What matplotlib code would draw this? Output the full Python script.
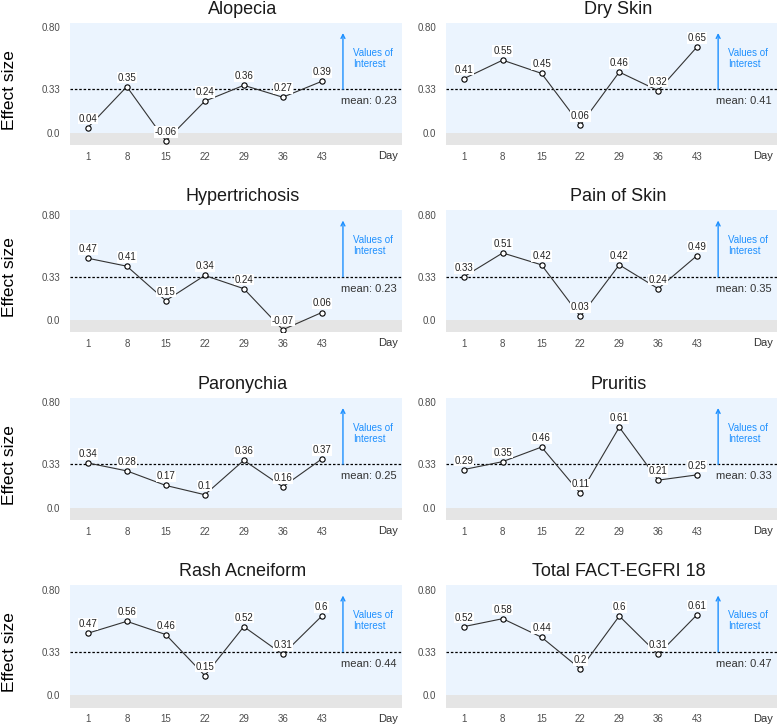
import matplotlib
matplotlib.use('Agg')
import matplotlib.pyplot as plt

plt.rcParams['font.family'] = ['Liberation Sans', 'DejaVu Sans']

DAYS = [1, 8, 15, 22, 29, 36, 43]
TITLES = ['Alopecia', 'Dry Skin', 'Hypertrichosis', 'Pain of Skin',
          'Paronychia', 'Pruritis', 'Rash Acneiform', 'Total FACT-EGFRI 18']

alopecia = [0.04, 0.35, -0.06, 0.24, 0.36, 0.27, 0.39]
dry_skin = [0.41, 0.55, 0.45, 0.06, 0.46, 0.32, 0.65]
hypertrichosis = [0.47, 0.41, 0.15, 0.34, 0.24, -0.07, 0.06]
pain_of_skin = [0.33, 0.51, 0.42, 0.03, 0.42, 0.24, 0.49]
paronychia = [0.34, 0.28, 0.17, 0.1, 0.36, 0.16, 0.37]
pruritis = [0.29, 0.35, 0.46, 0.11, 0.61, 0.21, 0.25]
rash_acneiform = [0.47, 0.56, 0.46, 0.15, 0.52, 0.31, 0.6]
total_fact = [0.52, 0.58, 0.44, 0.2, 0.6, 0.31, 0.61]

SERIES = [alopecia, dry_skin, hypertrichosis, pain_of_skin,
          paronychia, pruritis, rash_acneiform, total_fact]
MEANS = [0.23, 0.41, 0.23, 0.35, 0.25, 0.33, 0.44, 0.47]

THRESHOLD = 0.33
YTICKS = [0.0, 0.33, 0.80]
YTICK_LABELS = ['0.0', '0.33', '0.80']

W, H = 778, 727
fig = plt.figure(figsize=(W / 100, H / 100), dpi=100)

# panel geometry in pixels
col_left = [70, 446]
col_width = [332, 331]
row_bottom = [145, 332.5, 520, 707.5]
ax_h = 122.3

BLUE_BG = '#EBF4FE'
GREY_BG = '#E5E5E5'
ARROW_C = '#1E90FF'
TXT_C = '#4D4D4D'

for i, (title, vals, mean) in enumerate(zip(TITLES, SERIES, MEANS)):
    r, c = divmod(i, 2)
    ax = fig.add_axes([col_left[c] / W, 1 - row_bottom[r] / H,
                       col_width[c] / W, ax_h / H])
    ax.set_xlim(-2.2, 57.4)
    ax.set_ylim(-0.091, 0.833)
    ax.set_facecolor(BLUE_BG)
    ax.axhspan(-0.091, 0, color=GREY_BG, lw=0, zorder=0)
    for s in ax.spines.values():
        s.set_visible(False)

    ax.axhline(THRESHOLD, color='black', lw=0.9, ls=(0, (2, 1.5)), zorder=1)
    ax.plot(DAYS, vals, color='#333333', lw=0.8, zorder=2)
    ax.plot(DAYS, vals, 'o', ms=3.8, mfc='white', mec='black', mew=0.8, zorder=4)
    for d, v in zip(DAYS, vals):
        ax.annotate(f'{v:g}', (d, v), xytext=(0, 6.5), textcoords='offset points',
                    ha='center', va='center', fontsize=7, color='#222222', zorder=3,
                    bbox=dict(boxstyle='square,pad=0.08', fc='white', ec='none'))

    ax.annotate('', xy=(46.8, 0.755), xytext=(46.8, THRESHOLD),
                arrowprops=dict(arrowstyle='->', color=ARROW_C, lw=1,
                                shrinkA=0, shrinkB=0, mutation_scale=7))
    ax.text(48.6, 0.565, 'Values of\nInterest', color=ARROW_C, fontsize=7,
            ha='left', va='center', linespacing=1.15)
    ax.text(46.4, 0.24, f'mean: {mean:g}', color='#333333', fontsize=8,
            ha='left', va='center')

    ax.set_xticks(DAYS)
    ax.set_xticklabels([str(d) for d in DAYS])
    ax.set_yticks(YTICKS)
    ax.set_yticklabels(YTICK_LABELS)
    ax.tick_params(length=0, labelsize=7, labelcolor=TXT_C)
    ax.tick_params(axis='x', pad=5)
    ax.tick_params(axis='y', pad=7)

    ax.text(1 - 4 / col_width[c], -11 / ax_h, 'Day', transform=ax.transAxes,
            ha='right', va='center', fontsize=8, color='#333333')
    ax.set_title(title, fontsize=13, pad=6.5, x=0.5 + 7 / col_width[c],
                 color='#1a1a1a')

    if c == 0:
        yc = 1 - (row_bottom[r] - ax_h / 2 + 6) / H
        fig.text(10 / W, yc, 'Effect size', rotation=90, fontsize=12.5,
                 ha='center', va='center', color='black')

fig.savefig('out.png', dpi=100)
